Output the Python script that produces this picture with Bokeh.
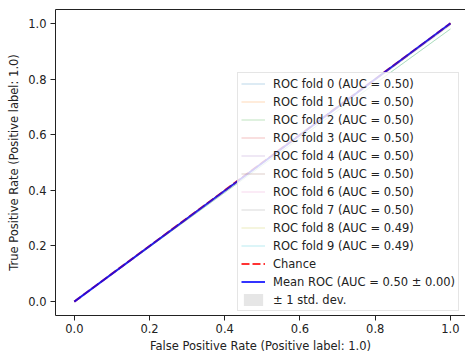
from bokeh.plotting import figure
from bokeh.embed import file_html
from bokeh.resources import INLINE
from bokeh.models import FixedTicker, Range1d, LinearAxis

# ---- data ----
fold_names = [f"ROC fold {i}" for i in range(10)]
fold_aucs = [0.50, 0.50, 0.50, 0.50, 0.50, 0.50, 0.50, 0.50, 0.49, 0.49]
fold_colors = ["#1f77b4", "#ff7f0e", "#2ca02c", "#d62728", "#9467bd",
               "#8c564b", "#e377c2", "#7f7f7f", "#bcbd22", "#17becf"]
fold_fpr = [
    [0.0, 0.5, 1.0], [0.0, 0.5, 1.0], [0.0, 0.5, 1.0], [0.0, 0.5, 1.0],
    [0.0, 0.5, 1.0], [0.0, 0.5, 1.0], [0.0, 0.5, 1.0], [0.0, 0.5, 1.0],
    [0.0, 0.5, 1.0], [0.0, 0.5, 1.0],
]
fold_tpr = [
    [0.0, 0.50, 1.0], [0.0, 0.50, 1.0], [0.0, 0.50, 1.0], [0.0, 0.50, 1.0],
    [0.0, 0.50, 1.0], [0.0, 0.50, 1.0], [0.0, 0.50, 1.0], [0.0, 0.50, 1.0],
    [0.0, 0.49, 0.98], [0.0, 0.49, 0.98],
]
chance_x = [0.0, 1.0]
chance_y = [0.0, 1.0]
mean_fpr = [0.0, 0.5, 1.0]
mean_tpr = [0.0, 0.498, 1.0]
tpr_lower = [0.0, 0.496, 0.992]
tpr_upper = [0.0, 0.500, 1.0]
mean_auc = 0.50
std_auc = 0.00
tick_vals = [0.0, 0.2, 0.4, 0.6, 0.8, 1.0]
tick_labels = ["0.0", "0.2", "0.4", "0.6", "0.8", "1.0"]

FONT = "DejaVu Sans"
FS = "11.5px"
INK = "#222222"

p = figure(width=465, height=355, output_backend="svg", toolbar_location=None,
           x_range=Range1d(-0.05, 1.04), y_range=Range1d(-0.05, 1.05),
           min_border_left=55, min_border_right=0, min_border_top=9,
           min_border_bottom=38)
p.background_fill_color = "white"
p.border_fill_color = "white"
p.outline_line_color = None
p.grid.visible = False

xb = p.below[0]
yl = p.left[0]

# top spine (the reference's right spine falls outside the picture)
top = LinearAxis(ticker=FixedTicker(ticks=[]), axis_line_color=INK,
                 major_tick_line_color=None, minor_tick_line_color=None,
                 major_label_text_font_size="0px", major_tick_out=0,
                 major_tick_in=0, major_label_standoff=0)
p.add_layout(top, "above")

for i in range(10):
    p.line(fold_fpr[i], fold_tpr[i], line_color=fold_colors[i], line_alpha=0.3,
           line_width=1, legend_label=f"{fold_names[i]} (AUC = {fold_aucs[i]:.2f})")

p.line(chance_x, chance_y, line_color="red", line_alpha=0.8, line_width=2,
       line_dash="8 3", legend_label="Chance")
p.line(mean_fpr, mean_tpr, line_color="blue", line_alpha=0.8, line_width=2,
       legend_label=f"Mean ROC (AUC = {mean_auc:.2f} \u00b1 {std_auc:.2f})")
p.varea(x=mean_fpr, y1=tpr_lower, y2=tpr_upper, fill_color="grey", fill_alpha=0.2,
        legend_label="\u00b1 1 std. dev.")

for ax in (xb, yl):
    ax.ticker = FixedTicker(ticks=tick_vals)
    ax.major_label_overrides = {v: s for v, s in zip(tick_vals, tick_labels)}
    ax.minor_tick_line_color = None
    ax.major_tick_in = 0
    ax.major_tick_out = 5
    ax.major_tick_line_color = INK
    ax.axis_line_color = INK
    ax.major_label_text_font = FONT
    ax.major_label_text_font_size = FS
    ax.major_label_text_color = INK
    ax.axis_label_text_font = FONT
    ax.axis_label_text_font_size = FS
    ax.axis_label_text_font_style = "normal"
    ax.axis_label_text_color = INK

xb.major_label_standoff = 3
xb.axis_label_standoff = 3
yl.major_label_standoff = 4
yl.axis_label_standoff = 4

xb.axis_label = "False Positive Rate (Positive label: 1.0)"
yl.axis_label = "True Positive Rate (Positive label: 1.0)"

lg = p.legend[0]
lg.location = (182, 4)
lg.margin = 0
lg.padding = 3
lg.spacing = 3
lg.label_height = 15
lg.glyph_height = 15
lg.glyph_width = 24
lg.label_standoff = 8
lg.label_text_font = FONT
lg.label_text_font_size = FS
lg.label_text_color = INK
lg.border_line_color = "#cccccc"
lg.border_line_width = 1
lg.background_fill_color = "white"
lg.background_fill_alpha = 0.8

open("out.html", "w").write(file_html(p, INLINE))
